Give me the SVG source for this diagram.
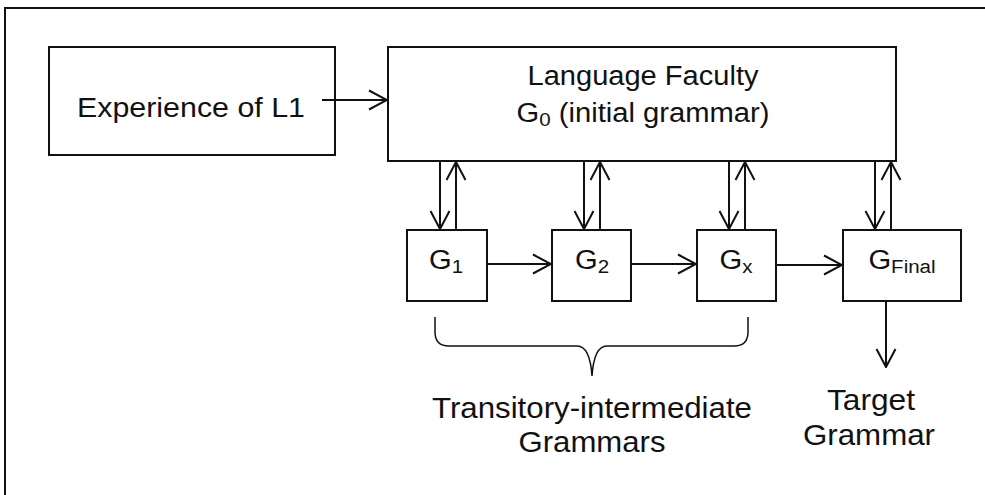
<svg xmlns="http://www.w3.org/2000/svg" width="985" height="495" viewBox="0 0 985 495">
<defs>
<style>
.box{fill:#fff;stroke:#111;stroke-width:2}
.ln{fill:none;stroke:#111;stroke-width:2}
.t{font-family:"Liberation Sans",Arial,sans-serif;font-size:27px;fill:#111;text-anchor:middle}
.b{font-size:29px}
.s{font-size:19px}
</style>
<marker id="ah" viewBox="0 0 20 22" refX="19" refY="11" markerWidth="20" markerHeight="22" markerUnits="userSpaceOnUse" orient="auto">
<path d="M1,1.5 L19,11 L1,20.5" fill="none" stroke="#111" stroke-width="2"/>
</marker>
</defs>
<rect width="985" height="495" fill="#fff"/>
<path class="ln" d="M5,495 V8 H985"/>
<g id="experience">
<rect class="box" x="49" y="47" width="286" height="108"/>
<text class="t" x="191" y="117" textLength="228" lengthAdjust="spacingAndGlyphs">Experience of L1</text>
</g>
<g id="faculty">
<rect class="box" x="388" y="47" width="508" height="114"/>
<text class="t" x="643" y="85" textLength="231" lengthAdjust="spacingAndGlyphs">Language Faculty</text>
<text class="t" transform="translate(643,122) scale(1.08,1)" x="0" y="0">G<tspan class="s" dy="4">0</tspan><tspan dy="-4"> (initial grammar)</tspan></text>
</g>
<g id="g1">
<rect class="box" x="407" y="230" width="80" height="71"/>
<text class="t" transform="translate(446,269) scale(1.08,1)" x="0" y="0">G<tspan class="s" dy="4">1</tspan></text>
</g>
<g id="g2">
<rect class="box" x="552" y="230" width="79" height="71"/>
<text class="t" transform="translate(592,269) scale(1.08,1)" x="0" y="0">G<tspan class="s" dy="4">2</tspan></text>
</g>
<g id="gx">
<rect class="box" x="697" y="230" width="79" height="71"/>
<text class="t" transform="translate(736,269) scale(1.08,1)" x="0" y="0">G<tspan class="s" dy="4">x</tspan></text>
</g>
<g id="gfinal">
<rect class="box" x="843" y="230" width="118" height="71"/>
<text class="t" transform="translate(902,269) scale(1.08,1)" x="0" y="0">G<tspan class="s" dy="4">Final</tspan></text>
</g>
<g id="connectors">
<line class="ln" x1="322" y1="100" x2="387" y2="100" marker-end="url(#ah)"/>
<line class="ln" x1="440" y1="161" x2="440" y2="229" marker-end="url(#ah)"/>
<line class="ln" x1="456" y1="230" x2="456" y2="162" marker-end="url(#ah)"/>
<line class="ln" x1="584" y1="161" x2="584" y2="229" marker-end="url(#ah)"/>
<line class="ln" x1="600" y1="230" x2="600" y2="162" marker-end="url(#ah)"/>
<line class="ln" x1="729" y1="161" x2="729" y2="229" marker-end="url(#ah)"/>
<line class="ln" x1="745" y1="230" x2="745" y2="162" marker-end="url(#ah)"/>
<line class="ln" x1="875" y1="161" x2="875" y2="229" marker-end="url(#ah)"/>
<line class="ln" x1="891" y1="230" x2="891" y2="162" marker-end="url(#ah)"/>
<line class="ln" x1="487" y1="264" x2="551" y2="264" marker-end="url(#ah)"/>
<line class="ln" x1="631" y1="264" x2="696" y2="264" marker-end="url(#ah)"/>
<line class="ln" x1="776" y1="265" x2="842" y2="265" marker-end="url(#ah)"/>
<line class="ln" x1="886" y1="301" x2="886" y2="367" marker-end="url(#ah)"/>
</g>
<g id="brace">
<path fill="none" stroke="#111" stroke-width="1.5" d="M435,317 V332 Q435,346 449,346 H577 Q590,346 592,376 Q594,346 607,346 H734 Q748,346 748,332 V317"/>
</g>
<g id="labels">
<text class="t b" x="592" y="418" textLength="320" lengthAdjust="spacingAndGlyphs">Transitory-intermediate</text>
<text class="t b" x="592" y="452" textLength="147" lengthAdjust="spacingAndGlyphs">Grammars</text>
<text class="t b" x="871" y="410" textLength="88" lengthAdjust="spacingAndGlyphs">Target</text>
<text class="t b" x="869" y="445" textLength="132" lengthAdjust="spacingAndGlyphs">Grammar</text>
</g>
</svg>
